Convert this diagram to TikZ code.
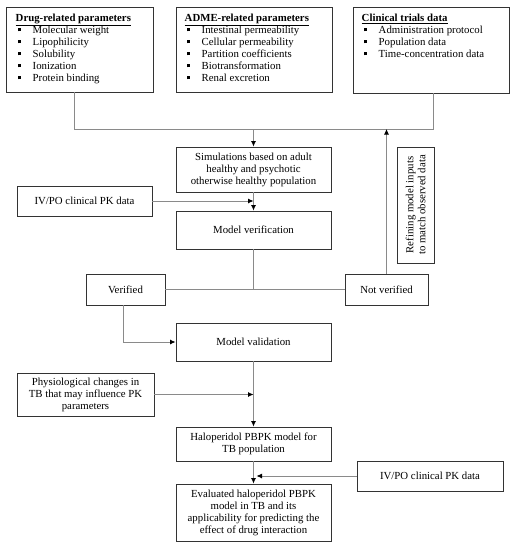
\documentclass[tikz,border=0pt]{standalone}
\usepackage{fontspec}
\setmainfont{Liberation Serif}
\usetikzlibrary{arrows.meta,calc}
\definecolor{boxline}{HTML}{333333}
\definecolor{connline}{HTML}{8A8A8A}
\newcommand{\bul}{\makebox[17pt][l]{\hspace{2pt}\rule[1.8pt]{3.3pt}{3.3pt}}}
\begin{document}
\begin{tikzpicture}[x=1pt,y=-1pt,
  every node/.style={font=\fontsize{10.8}{12}\selectfont},
  box/.style={draw=boxline, line width=0.95pt, fill=white, align=center, inner sep=2pt},
  txt/.style={anchor=north west, align=left, inner sep=0pt},
  conn/.style={draw=connline, line width=0.8pt},
  arr/.style={conn, -{Latex[length=5.5pt,width=5pt,black]}}]
\useasboundingbox (0,0) rectangle (516,550);
% top boxes
\node[box, minimum width=147, minimum height=85] (drug) at (79.5,49.5) {};
\node[box, minimum width=156, minimum height=85] (adme) at (254,49.5) {};
\node[box, minimum width=156, minimum height=86] (clin) at (431,50) {};
\node[txt] (drugtxt) at ([xshift=10,yshift=-7]drug.north west) {\underline{\textbf{Drug-related parameters}}\\
\bul Molecular weight\\ \bul Lipophilicity\\ \bul Solubility\\ \bul Ionization\\ \bul Protein binding};
\node[txt] (admetxt) at ([xshift=9,yshift=-7]adme.north west) {\underline{\textbf{ADME-related parameters}}\\
\bul Intestinal permeability\\ \bul Cellular permeability\\ \bul Partition coefficients\\ \bul Biotransformation\\ \bul Renal excretion};
\node[txt] (clintxt) at ([xshift=9,yshift=-7]clin.north west) {\underline{\textbf{Clinical trials data}}\\
\bul Administration protocol\\ \bul Population data\\ \bul Time-concentration data};
% flow boxes
\node[box, minimum width=155, minimum height=45] (sim) at (253.5,169.5) {Simulations based on adult\\healthy and psychotic\\otherwise healthy population};
\node[box, minimum width=135, minimum height=30] (iv1) at (84.5,201) {IV/PO clinical PK data};
\node[box, minimum width=155, minimum height=38] (ver) at (253.5,230) {Model verification};
\node[box, minimum width=79, minimum height=31] (verified) at (125.5,289.5) {Verified};
\node[box, minimum width=83, minimum height=31] (notver) at (386.5,289.5) {Not verified};
\node[box, minimum width=116, minimum height=37, rotate=90] (refine) at (415.5,205) {Refining model inputs\\to match observed data};
\node[box, minimum width=155, minimum height=38] (val) at (253.5,342) {Model validation};
\node[box, minimum width=137, minimum height=43] (phys) at (85.5,394.5) {Physiological changes in\\TB that may influence PK\\parameters};
\node[box, minimum width=155, minimum height=34] (halo) at (253.5,444) {Haloperidol PBPK model for\\TB population};
\node[box, minimum width=146, minimum height=30] (iv2) at (430,476) {IV/PO clinical PK data};
\node[box, minimum width=155, minimum height=57] (eval) at (253.5,512.5) {Evaluated haloperidol PBPK\\model in TB and its\\applicability for predicting the\\effect of drug interaction};
% connectors
\coordinate (busL) at (74,129);
\coordinate (busR) at (433,129);
\coordinate (busM) at (253.5,129);
\draw[conn] (drug.south -| busL) -- (busL) -- (busR) -- (clin.south -| busR);
\draw[arr] (busM) -- (sim.north);
\draw[arr] (notver.north) -- (notver.north |- busL);
\draw[arr] (iv1.east) -- (iv1.east -| sim.south);
\draw[arr] (sim.south) -- (ver.north);
\draw[conn] (ver.south) -- (ver.south |- verified.east);
\draw[conn] (verified.east) -- (notver.west);
\draw[arr] ([xshift=-2.5]verified.south) |- (val.west);
\draw[arr] (val.south) -- (halo.north);
\draw[arr] (phys.east) -- (phys.east -| val.south);
\draw[arr] (halo.south) -- (eval.north);
\draw[arr, shorten >=3pt] (iv2.west) -- (iv2.west -| halo.south);
\end{tikzpicture}
\end{document}
